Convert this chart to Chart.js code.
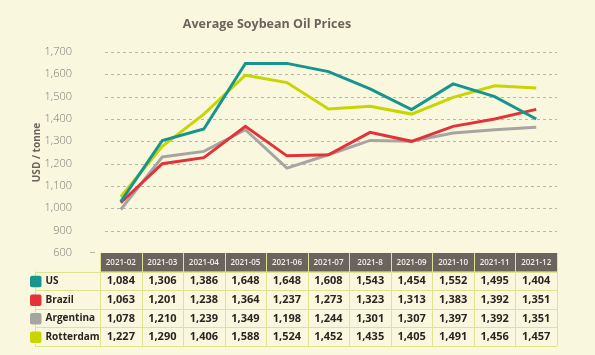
<!DOCTYPE html>
<html>
<head>
<meta charset="utf-8">
<script src="https://cdn.jsdelivr.net/npm/chart.js@4"></script>
<style>
html,body{margin:0;padding:0;background:#f9f8de;}
#wrap{position:relative;width:595px;height:355px;}
</style>
</head>
<body>
<div id="wrap"><canvas id="c" width="595" height="355"></canvas></div>
<script>
const categories = ['2021-02','2021-03','2021-04','2021-05','2021-06','2021-07','2021-8','2021-09','2021-10','2021-11','2021-12'];
const seriesNames = ['US','Brazil','Argentina','Rotterdam'];
// plotted line values
const usLine        = [1030,1304,1355,1649,1649,1612,1535,1442,1557,1500,1400];
const brazilLine    = [1025,1200,1227,1367,1235,1240,1340,1300,1367,1400,1443];
const argentinaLine = [ 995,1230,1255,1352,1180,1240,1304,1300,1337,1352,1363];
const rotterdamLine = [1052,1278,1422,1596,1563,1445,1457,1422,1497,1549,1539];
// table values (as printed)
const usTable        = ['1,084','1,306','1,386','1,648','1,648','1,608','1,543','1,454','1,552','1,495','1,404'];
const brazilTable    = ['1,063','1,201','1,238','1,364','1,237','1,273','1,323','1,313','1,383','1,392','1,351'];
const argentinaTable = ['1,078','1,210','1,239','1,349','1,198','1,244','1,301','1,307','1,397','1,392','1,351'];
const rotterdamTable = ['1,227','1,290','1,406','1,588','1,524','1,452','1,435','1,405','1,491','1,456','1,457'];
const yTickValues = [800,900,1000,1100,1200,1300,1400,1500,1600,1700];
const yTickLabels = ['600','900','1,000','1,100','1,200','1,300','1,400','1,500','1,600','1,700'];
const chartTitle = 'Average Soybean Oil Prices';
const yTitle = 'USD / tonne';

const colors = ['#16958f','#e2333a','#a7a5a2','#c9d500'];
const lines = [usLine, brazilLine, argentinaLine, rotterdamLine];
const tables = [usTable, brazilTable, argentinaTable, rotterdamTable];

const gridPlugin = {
  id: 'dashGrid',
  beforeDatasetsDraw(chart) {
    const ctx = chart.ctx, y = chart.scales.y, ca = chart.chartArea;
    ctx.save();
    ctx.strokeStyle = '#bab6a6';
    ctx.lineWidth = 1;
    ctx.setLineDash([3, 3]);
    yTickValues.forEach(v => {
      if (v === y.min) return;
      const py = Math.round(y.getPixelForValue(v)) + 0.5;
      ctx.beginPath(); ctx.moveTo(ca.left + 5, py); ctx.lineTo(ca.right, py); ctx.stroke();
    });
    ctx.restore();
  }
};

const tablePlugin = {
  id: 'tablePlugin',
  afterDraw(chart) {
    const ctx = chart.ctx;
    const x = chart.scales.x;
    const ca = chart.chartArea;
    const half = (x.getPixelForValue(1) - x.getPixelForValue(0)) / 2;
    const left = ca.left, right = x.getPixelForValue(categories.length - 1) + half;
    const top = 253, hh = 18.5, rh = 18.6;
    ctx.save();
    // title
    ctx.fillStyle = '#6b635c';
    ctx.font = 'bold 12.5px "Open Sans"';
    ctx.textAlign = 'center';
    ctx.textBaseline = 'middle';
    ctx.fillText(chartTitle, 267, 24);
    // small tick dash next to bottom label
    ctx.strokeStyle = '#b9b6aa';
    ctx.lineWidth = 1;
    ctx.beginPath(); ctx.moveTo(90, 252.5); ctx.lineTo(95, 252.5); ctx.stroke();
    // header
    ctx.fillStyle = '#6b635d';
    ctx.fillRect(left, top, right - left, hh);
    ctx.strokeStyle = '#dfe38f';
    ctx.lineWidth = 1;
    // grid lines
    const tBottom = top + hh + rh * 4;
    for (let i = 0; i <= categories.length; i++) {
      const px = Math.round((i === 0 ? left : x.getPixelForValue(i - 1) + half)) + 0.5;
      ctx.beginPath(); ctx.moveTo(px, top); ctx.lineTo(px, tBottom); ctx.stroke();
    }
    ctx.beginPath(); ctx.moveTo(35.5, top + hh); ctx.lineTo(35.5, tBottom); ctx.stroke();
    for (let r = 0; r <= 4; r++) {
      const py = Math.round(top + hh + rh * r) + 0.5;
      ctx.beginPath(); ctx.moveTo(35, py); ctx.lineTo(right, py); ctx.stroke();
    }
    // header texts
    ctx.fillStyle = '#f4f1ea';
    ctx.font = '600 8px "Open Sans"';
    categories.forEach((c, i) => {
      ctx.fillText(c, x.getPixelForValue(i), top + hh / 2 + 0.5);
    });
    // rows
    for (let r = 0; r < 4; r++) {
      const cy = top + hh + rh * r + rh / 2 + 0.5;
      ctx.fillStyle = colors[r];
      ctx.beginPath();
      if (ctx.roundRect) ctx.roundRect(30, cy - 5.5, 11.5, 11.5, 2); else ctx.rect(30, cy - 5.5, 11.5, 11.5);
      ctx.fill();
      ctx.fillStyle = '#2a2522';
      ctx.textAlign = 'left';
      ctx.font = 'bold 10px "Open Sans"';
      ctx.fillText(seriesNames[r], 45.5, cy);
      ctx.textAlign = 'center';
      ctx.font = 'bold 11px "Open Sans"';
      tables[r].forEach((v, i) => ctx.fillText(v, x.getPixelForValue(i), cy));
    }
    ctx.restore();
  }
};

new Chart(document.getElementById('c'), {
  type: 'line',
  data: {
    labels: categories,
    datasets: lines.map((d, i) => ({
      label: seriesNames[i],
      data: d,
      borderColor: colors[i],
      backgroundColor: colors[i],
      borderWidth: 3,
      pointRadius: 0,
      tension: 0,
      fill: false
    }))
  },
  options: {
    responsive: false,
    animation: false,
    layout: { padding: { top: 52, bottom: 102, right: 38, left: 0 } },
    plugins: { legend: { display: false }, tooltip: { enabled: false }, title: { display: false } },
    scales: {
      x: { display: false, offset: true },
      y: {
        min: 800, max: 1700,
        afterFit(s) { s.width = 100; },
        afterBuildTicks(s) { s.ticks = yTickValues.map(v => ({ value: v })); },
        ticks: {
          padding: 28,
          color: '#7d7873',
          font: { family: '"Open Sans"', size: 11, weight: '300' },
          callback: (v, i) => yTickLabels[yTickValues.indexOf(v)]
        },
        grid: { display: false, drawTicks: false },
        border: { display: false },
        title: {
          display: true, text: yTitle, color: '#6b635c',
          font: { family: '"Open Sans"', size: 10, weight: 'bold' },
          padding: { top: 31, bottom: 0 }
        }
      }
    }
  },
  plugins: [gridPlugin, tablePlugin]
});
</script>
</body>
</html>
